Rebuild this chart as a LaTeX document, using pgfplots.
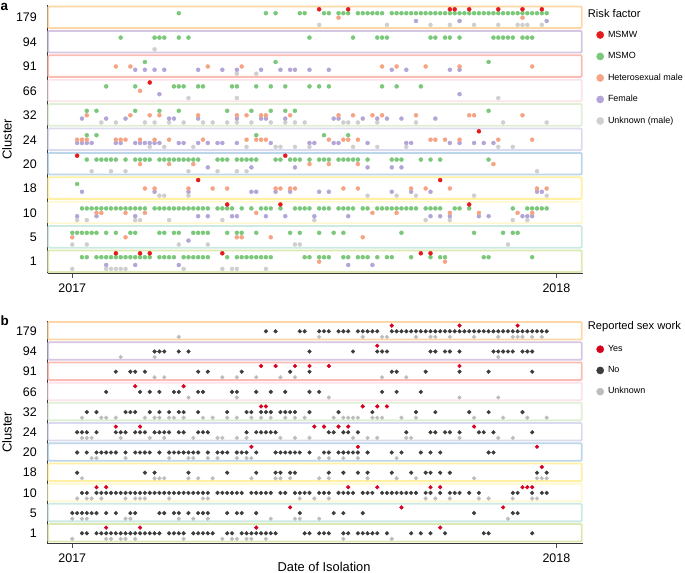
\documentclass[border=0pt]{standalone}
\usepackage{fontspec}
\setmainfont{Liberation Sans}
\usepackage{pgfplots}
\pgfplotsset{compat=1.18}

\definecolor{cMSMW}{HTML}{E41A1C}
\definecolor{cMSMO}{HTML}{7BC87B}
\definecolor{cHet}{HTML}{F6A383}
\definecolor{cFem}{HTML}{B3A5D7}
\definecolor{cUnk}{HTML}{CFCFCF}
\definecolor{cYes}{HTML}{D7001E}
\definecolor{cNo}{HTML}{3C3C3C}
\definecolor{cUnkB}{HTML}{BDBDBD}
% cluster box colours
\definecolor{b179}{HTML}{FDD7A6}
\definecolor{b94}{HTML}{D7C6E3}
\definecolor{b91}{HTML}{FBBDB3}
\definecolor{b66}{HTML}{FCE3EA}
\definecolor{b32}{HTML}{DFEFD5}
\definecolor{b24}{HTML}{DCDAEF}
\definecolor{b20}{HTML}{BDD7EA}
\definecolor{b18}{HTML}{FFF0A3}
\definecolor{b10}{HTML}{FFF7CF}
\definecolor{b5}{HTML}{CCE9E4}
\definecolor{b1}{HTML}{DCE9B1}

\tikzset{cbox/.style={line width=1.8bp, rounded corners=1bp}}

\pgfplotsset{
  clusterax/.style={
    scale only axis, width=535bp,
    xmin=-5.12, xmax=105.4,
    axis lines=left,
    axis line style={-, draw=black!78, line width=1.1bp},
    xtick={0,100}, xticklabels={2017,2018},
    ytick={0,1,...,10}, yticklabels={1,5,10,18,20,24,32,66,91,94,179},
    tick align=outside, major tick length=4.3bp,
    xtick style={draw=black!70, line width=0.9bp},
    ytick style={draw=none},
    tick label style={font=\fontsize{12.5}{14}\selectfont, inner sep=0pt},
    yticklabel style={anchor=east, xshift=-6.2bp},
    xticklabel style={anchor=north, yshift=-6bp},
    ylabel={Cluster},
    ylabel style={at={(axis description cs:-0.0757,0.5)}, anchor=center, font=\fontsize{13}{15}\selectfont},
    clip=false,
    legend cell align=left,
    legend style={at={(1,1)}, anchor=north west, draw=none, fill=none,
      inner sep=0pt, outer sep=0pt, font=\fontsize{9}{10}\selectfont,
      nodes={inner sep=0pt, text height=6.5bp, text depth=2bp},
      /tikz/every odd column/.style={column sep=4bp}},
  },
  pa/.style={only marks, mark=*, mark size=2bp, mark options={draw=none}, forget plot},
  pb/.style={only marks, mark=*, mark size=1.9bp, mark options={draw=none}, forget plot},
}

\begin{document}
\begin{tikzpicture}
\useasboundingbox (0,0) rectangle (685bp,573bp);

% ---------------- panel a ----------------
\begin{axis}[clusterax, at={(47.5bp,299.5bp)}, anchor=south west,
  height=268.5bp, ymin=-0.484, ymax=10.52,
  legend style={xshift=13.9bp, yshift=-25.7bp, row sep=13bp}]
\draw[cbox, b1]   (axis cs:-4.96,-0.425) rectangle (axis cs:105.25,0.46);
\draw[cbox, b5]   (axis cs:-4.96,0.575) rectangle (axis cs:105.25,1.46);
\draw[cbox, b10]  (axis cs:-4.96,1.575) rectangle (axis cs:105.25,2.46);
\draw[cbox, b18]  (axis cs:-4.96,2.575) rectangle (axis cs:105.25,3.46);
\draw[cbox, b20]  (axis cs:-4.96,3.575) rectangle (axis cs:105.25,4.46);
\draw[cbox, b24]  (axis cs:-4.96,4.575) rectangle (axis cs:105.25,5.46);
\draw[cbox, b32]  (axis cs:-4.96,5.575) rectangle (axis cs:105.25,6.46);
\draw[cbox, b66]  (axis cs:-4.96,6.575) rectangle (axis cs:105.25,7.46);
\draw[cbox, b91]  (axis cs:-4.96,7.575) rectangle (axis cs:105.25,8.46);
\draw[cbox, b94]  (axis cs:-4.96,8.575) rectangle (axis cs:105.25,9.46);
\draw[cbox, b179] (axis cs:-4.96,9.575) rectangle (axis cs:105.25,10.46);

% Unknown (male)
\addplot[pa, color=cUnk, y filter/.expression={y-0.295}] coordinates {
(51,10)(65,10)(74,10)(78,10)(83,10)(88,10)(92,10)(93,10)(94,10)(97,10)
(17,9)
(34,8)(38,8)
(24,7)(34,7)(88,7)
(6,6)(9,6)(15,6)(17,6)(20,6)(23,6)(27,6)(29,6)(32,6)(34,6)(37,6)(41,6)(44,6)(46,6)(48,6)(56,6)(57,6)(59,6)(63,6)(71,6)(89,6)(98,6)
(16,5)(19,5)(25,5)(36,5)(42,5)(43,5)(46,5)(49,5)(58,5)(63,5)(69,5)(88,5)(91,5)
(4,4)(8,4)(11,4)(24,4)(30,4)(34,4)(36,4)(96,4)
(18,3)(19,3)(24,3)(61,3)(67,3)(71,3)(83,3)(98,3)
(1,2)(3,2)(13,2)(14,2)(20,2)(31,2)(50,2)(73,2)(78,2)(91,2)(94,2)
(0,1)(3,1)(22,1)(28,1)(46,1)(47,1)(90,1)
(0,0)(7,0)(8,0)(9,0)(10,0)(11,0)(23,0)(31,0)(33,0)(34,0)(40,0)
};
% Female
\addplot[pa, color=cFem, y filter/.expression={y-0.135}] coordinates {
(71,10)(80,10)(98,10)
(13,8)(15,8)(17,8)(19,8)(26,8)(31,8)(34,8)(39,8)(43,8)(45,8)(46,8)(49,8)(53,8)(66,8)(69,8)(78,8)(80,8)
(18,7)(80,7)
(2,6)(7,6)(11,6)(20,6)(21,6)(26,6)(34,6)(39,6)(40,6)(44,6)(54,6)(55,6)(60,6)(63,6)(65,6)(68,6)(75,6)
(1,5)(2,5)(3,5)(4,5)(9,5)(10,5)(13,5)(14,5)(15,5)(16,5)(17,5)(18,5)(22,5)(23,5)(26,5)(28,5)(30,5)(31,5)(34,5)(41,5)(49,5)(50,5)(54,5)(55,5)(61,5)(69,5)(70,5)(78,5)(80,5)(83,5)(85,5)(87,5)
(28,4)(37,4)(46,4)(61,4)(66,4)(68,4)
(2,3)(17,3)(24,3)(37,3)(38,3)(42,3)(45,3)(51,3)(53,3)(66,3)(70,3)(74,3)(96,3)(97,3)
(1,2)(5,2)(13,2)(26,2)(28,2)(33,2)(34,2)(40,2)(44,2)(50,2)(57,2)(74,2)(76,2)(78,2)(84,2)(86,2)(93,2)(94,2)(95,2)
(24,1)
(7,0)(13,0)(22,0)(57,0)(62,0)
};
% Heterosexual male
\addplot[pa, color=cHet] coordinates {
(55,10)(93,10)
(9,8)(12,8)(28,8)(35,8)(64,8)(67,8)(73,8)(80,8)(95,8)
(14,7)
(3,6)(12,6)(16,6)(18,6)(26,6)(34,6)(36,6)(39,6)(40,6)(45,6)(55,6)(58,6)(62,6)(64,6)(71,6)(82,6)(83,6)(93,6)
(1,5)(2,5)(3,5)(9,5)(10,5)(11,5)(14,5)(17,5)(20,5)(27,5)(36,5)(38,5)(39,5)(40,5)(53,5)(56,5)(57,5)(59,5)(74,5)(75,5)(77,5)(80,5)(88,5)(95,5)
(14,4)(20,4)(25,4)(49,4)(53,4)(59,4)(87,4)
(15,3)(17,3)(24,3)(29,3)(32,3)(42,3)(43,3)(45,3)(46,3)(56,3)(59,3)(70,3)(73,3)(78,3)(96,3)(98,3)
(5,2)(6,2)(11,2)(15,2)(38,2)(62,2)(67,2)(78,2)(84,2)(92,2)(95,2)
(0,1)(11,1)(34,1)(35,1)(41,1)(60,1)
(51,0)(77,0)
};
% MSMO
\addplot[pa, color=cMSMO, y filter/.expression={y+0.184}] coordinates {
(22,10)(40,10)(42,10)(47,10)(48,10)(52,10)(53,10)(55,10)(56,10)(57,10)(59,10)(60,10)(61,10)(62,10)(63,10)(64,10)
(66,10)(67,10)(68,10)(69,10)(70,10)(71,10)(72,10)(73,10)(74,10)(75,10)(76,10)(77,10)(78,10)(79,10)(80,10)(81,10)(82,10)
(83,10)(84,10)(85,10)(86,10)(87,10)(88,10)(89,10)(90,10)(91,10)(92,10)(93,10)(94,10)(95,10)(96,10)(97,10)(98,10)
(10,9)(17,9)(18,9)(19,9)(22,9)(24,9)(49,9)(58,9)(63,9)(64,9)(65,9)(74,9)(75,9)(77,9)(78,9)(80,9)(87,9)(88,9)(89,9)(90,9)(91,9)(93,9)(94,9)(95,9)
(15,8)(42,8)(86,8)
(7,7)(13,7)(21,7)(22,7)(23,7)(26,7)(27,7)(33,7)(34,7)(38,7)(41,7)(44,7)(49,7)(51,7)(53,7)(64,7)(67,7)(72,7)
(3,6)(5,6)(13,6)(18,6)(22,6)(32,6)(37,6)(41,6)(44,6)(46,6)(86,6)
(3,5)(5,5)(38,5)(52,5)(57,5)
(3,4)(5,4)(6,4)(7,4)(8,4)(9,4)(11,4)(13,4)(14,4)(15,4)(16,4)(18,4)(19,4)(20,4)(21,4)(22,4)(23,4)(24,4)(25,4)(26,4)
(30,4)(31,4)(32,4)(34,4)(35,4)(36,4)(37,4)(38,4)(42,4)(43,4)(45,4)(46,4)(47,4)(49,4)(51,4)(52,4)(53,4)(55,4)(56,4)(57,4)
(58,4)(59,4)(61,4)(66,4)(67,4)(68,4)(72,4)(74,4)(76,4)(86,4)
(1,3)
(2,2)(3,2)(4,2)(5,2)(6,2)(7,2)(8,2)(9,2)(10,2)(11,2)(12,2)(13,2)(14,2)(15,2)(17,2)(18,2)(19,2)(20,2)(21,2)(22,2)(23,2)
(24,2)(25,2)(26,2)(27,2)(28,2)(30,2)(31,2)(32,2)(33,2)(35,2)(37,2)(39,2)(40,2)(41,2)(43,2)(46,2)(47,2)(48,2)(49,2)(51,2)
(52,2)(53,2)(55,2)(56,2)(57,2)(58,2)(60,2)(61,2)(63,2)(64,2)(65,2)(66,2)(67,2)(68,2)(69,2)(70,2)(71,2)(73,2)(74,2)(75,2)
(76,2)(79,2)(80,2)(82,2)(91,2)(94,2)(95,2)(96,2)(97,2)(98,2)
(0,1)(1,1)(2,1)(3,1)(4,1)(5,1)(7,1)(9,1)(12,1)(13,1)(18,1)(19,1)(21,1)(22,1)(25,1)(26,1)(27,1)(28,1)(32,1)(34,1)(35,1)
(38,1)(45,1)(47,1)(51,1)(54,1)(56,1)(68,1)(83,1)(89,1)(91,1)(92,1)
(2,0)(3,0)(5,0)(6,0)(7,0)(8,0)(9,0)(10,0)(11,0)(12,0)(13,0)(14,0)(15,0)(16,0)(18,0)(19,0)(20,0)(21,0)(23,0)(24,0)(25,0)
(26,0)(27,0)(28,0)(32,0)(34,0)(35,0)(36,0)(37,0)(38,0)(39,0)(40,0)(41,0)(48,0)(49,0)(51,0)(52,0)(53,0)(56,0)(57,0)(59,0)
(60,0)(61,0)(63,0)(65,0)(66,0)(70,0)(74,0)(76,0)(77,0)(85,0)(86,0)(95,0)
};
% MSMW
\addplot[pa, color=cMSMW, y filter/.expression={y+0.344}] coordinates {
(51,10)(57,10)(78,10)(79,10)(82,10)(88,10)(93,10)(97,10)
(16,7)(84,5)(1,4)(44,4)(26,3)(76,3)(32,2)(43,2)(82,2)
(9,0)(14,0)(16,0)(31,0)(72,0)(74,0)
};

\addlegendimage{legend image code/.code={\fill[cMSMW] (3.6bp,0bp) circle[radius=3.6bp];}}
\addlegendentry{MSMW}
\addlegendimage{legend image code/.code={\fill[cMSMO] (3.6bp,0bp) circle[radius=3.6bp];}}
\addlegendentry{MSMO}
\addlegendimage{legend image code/.code={\fill[cHet] (3.6bp,0bp) circle[radius=3.6bp];}}
\addlegendentry{Heterosexual male}
\addlegendimage{legend image code/.code={\fill[cFem] (3.6bp,0bp) circle[radius=3.6bp];}}
\addlegendentry{Female}
\addlegendimage{legend image code/.code={\fill[cUnk] (3.6bp,0bp) circle[radius=3.6bp];}}
\addlegendentry{Unknown (male)}
\end{axis}

% ---------------- panel b ----------------
\begin{axis}[clusterax, at={(47.5bp,29.5bp)}, anchor=south west,
  height=222.5bp, ymin=-0.505, ymax=10.51,
  xlabel={Date of Isolation},
  xlabel style={at={(axis description cs:0.517,-0.1034)}, anchor=center, font=\fontsize{12.9}{15}\selectfont},
  legend style={xshift=13.9bp, yshift=-24bp, row sep=12.7bp}]
\draw[cbox, b1]   (axis cs:-4.96,-0.41) rectangle (axis cs:105.25,0.46);
\draw[cbox, b5]   (axis cs:-4.96,0.59) rectangle (axis cs:105.25,1.46);
\draw[cbox, b10]  (axis cs:-4.96,1.59) rectangle (axis cs:105.25,2.46);
\draw[cbox, b18]  (axis cs:-4.96,2.59) rectangle (axis cs:105.25,3.46);
\draw[cbox, b20]  (axis cs:-4.96,3.59) rectangle (axis cs:105.25,4.46);
\draw[cbox, b24]  (axis cs:-4.96,4.59) rectangle (axis cs:105.25,5.46);
\draw[cbox, b32]  (axis cs:-4.96,5.59) rectangle (axis cs:105.25,6.46);
\draw[cbox, b66]  (axis cs:-4.96,6.59) rectangle (axis cs:105.25,7.46);
\draw[cbox, b91]  (axis cs:-4.96,7.59) rectangle (axis cs:105.25,8.46);
\draw[cbox, b94]  (axis cs:-4.96,8.59) rectangle (axis cs:105.25,9.46);
\draw[cbox, b179] (axis cs:-4.96,9.59) rectangle (axis cs:105.25,10.46);

% Unknown
\addplot[pb, color=cUnkB, y filter/.expression={y-0.277}] coordinates {
(22,10)(51,10)(60,10)(64,10)(65,10)(71,10)(74,10)(75,10)(78,10)(83,10)(88,10)(91,10)(92,10)(93,10)(95,10)(97,10)
(10,9)(17,9)(88,9)
(17,8)(19,8)(31,8)(34,8)(38,8)(43,8)(46,8)(64,8)(69,8)
(24,7)(34,7)(53,7)(80,7)(88,7)
(2,6)(6,6)(7,6)(9,6)(15,6)(17,6)(18,6)(20,6)(21,6)(23,6)(27,6)(29,6)(32,6)(34,6)(37,6)(39,6)(41,6)(44,6)(46,6)(48,6)
(54,6)(56,6)(57,6)(58,6)(59,6)(62,6)(63,6)(64,6)(68,6)(71,6)(83,6)(89,6)(94,6)(98,6)
(2,5)(3,5)(4,5)(10,5)(16,5)(19,5)(25,5)(30,5)(31,5)(34,5)(36,5)(43,5)(46,5)(49,5)(58,5)(61,5)(63,5)(69,5)(70,5)(80,5)(88,5)(91,5)
(4,4)(5,4)(11,4)(20,4)(24,4)(25,4)(28,4)(30,4)(34,4)(36,4)(37,4)(51,4)(53,4)(56,4)(59,4)(67,4)
(2,3)(17,3)(18,3)(19,3)(24,3)(26,3)(29,3)(37,3)(42,3)(43,3)(45,3)(51,3)(53,3)(61,3)(67,3)(71,3)(83,3)(96,3)(97,3)(98,3)
(1,2)(3,2)(4,2)(6,2)(11,2)(13,2)(14,2)(15,2)(20,2)(27,2)(28,2)(47,2)(50,2)(53,2)(73,2)(75,2)(78,2)(84,2)(86,2)(91,2)(95,2)(96,2)
(0,1)(2,1)(3,1)(11,1)(12,1)(22,1)(25,1)(28,1)(41,1)(46,1)(47,1)(51,1)(90,1)
(0,0)(7,0)(8,0)(10,0)(11,0)(13,0)(23,0)(31,0)(33,0)(34,0)(36,0)(37,0)(40,0)(56,0)(66,0)
};
% No
\addplot[pb, color=cNo] coordinates {
(40,10)(42,10)(47,10)(48,10)(51,10)(52,10)(53,10)(55,10)(56,10)(57,10)(59,10)(60,10)(61,10)(62,10)(63,10)
(66,10)(67,10)(68,10)(69,10)(70,10)(71,10)(72,10)(73,10)(74,10)(75,10)(76,10)(77,10)(78,10)(79,10)(80,10)(81,10)(82,10)
(83,10)(84,10)(85,10)(86,10)(87,10)(88,10)(89,10)(90,10)(91,10)(92,10)(93,10)(94,10)(95,10)(96,10)(97,10)(98,10)
(17,9)(18,9)(19,9)(22,9)(24,9)(49,9)(58,9)(63,9)(64,9)(65,9)(74,9)(75,9)(77,9)(78,9)(80,9)(87,9)(88,9)(89,9)(90,9)(91,9)(93,9)(94,9)(95,9)
(9,8)(12,8)(13,8)(15,8)(26,8)(28,8)(35,8)(45,8)(49,8)(66,8)(67,8)(73,8)(80,8)(86,8)(95,8)
(7,7)(14,7)(16,7)(18,7)(21,7)(22,7)(26,7)(27,7)(33,7)(34,7)(38,7)(41,7)(44,7)(49,7)(51,7)(64,7)(67,7)(72,7)
(3,6)(5,6)(11,6)(12,6)(13,6)(16,6)(18,6)(20,6)(22,6)(23,6)(26,6)(32,6)(36,6)(37,6)(39,6)(40,6)(41,6)(43,6)(44,6)(45,6)
(46,6)(49,6)(55,6)(62,6)(71,6)(75,6)(82,6)(86,6)(93,6)
(1,5)(2,5)(3,5)(5,5)(9,5)(10,5)(11,5)(13,5)(14,5)(15,5)(17,5)(18,5)(19,5)(20,5)(22,5)(23,5)(26,5)(27,5)(28,5)(36,5)
(38,5)(39,5)(40,5)(41,5)(42,5)(53,5)(54,5)(56,5)(57,5)(59,5)(69,5)(74,5)(75,5)(77,5)(78,5)(80,5)(84,5)(85,5)(87,5)(95,5)
(1,4)(3,4)(5,4)(6,4)(7,4)(8,4)(9,4)(11,4)(13,4)(14,4)(15,4)(16,4)(18,4)(20,4)(21,4)(22,4)(23,4)(24,4)(25,4)(26,4)
(28,4)(30,4)(31,4)(32,4)(34,4)(35,4)(36,4)(38,4)(42,4)(43,4)(44,4)(45,4)(46,4)(47,4)(49,4)(52,4)(53,4)(55,4)(56,4)(57,4)
(58,4)(59,4)(61,4)(66,4)(68,4)(72,4)(74,4)(76,4)(86,4)(87,4)
(1,3)(15,3)(17,3)(24,3)(32,3)(38,3)(42,3)(43,3)(45,3)(46,3)(53,3)(56,3)(59,3)(61,3)(66,3)(70,3)(73,3)(74,3)(76,3)(78,3)(96,3)(98,3)
(2,2)(3,2)(5,2)(6,2)(7,2)(8,2)(9,2)(10,2)(11,2)(12,2)(13,2)(14,2)(15,2)(16,2)(17,2)(18,2)(19,2)(20,2)(21,2)(22,2)(23,2)
(24,2)(25,2)(26,2)(27,2)(28,2)(30,2)(31,2)(32,2)(33,2)(34,2)(35,2)(37,2)(38,2)(39,2)(40,2)(41,2)(43,2)(44,2)(46,2)(47,2)
(48,2)(49,2)(51,2)(52,2)(53,2)(55,2)(56,2)(57,2)(58,2)(60,2)(61,2)(62,2)(64,2)(65,2)(66,2)(67,2)(68,2)(69,2)(70,2)(71,2)
(73,2)(74,2)(76,2)(78,2)(79,2)(80,2)(82,2)(84,2)(91,2)(92,2)(95,2)(97,2)(98,2)
(0,1)(1,1)(2,1)(3,1)(4,1)(5,1)(7,1)(9,1)(12,1)(13,1)(18,1)(19,1)(21,1)(22,1)(24,1)(26,1)(27,1)(28,1)(32,1)(34,1)(35,1)
(38,1)(47,1)(54,1)(56,1)(60,1)(83,1)(91,1)(92,1)
(2,0)(3,0)(5,0)(6,0)(7,0)(8,0)(9,0)(10,0)(11,0)(12,0)(13,0)(14,0)(15,0)(16,0)(17,0)(18,0)(20,0)(21,0)(22,0)(23,0)(25,0)
(26,0)(27,0)(28,0)(29,0)(32,0)(33,0)(35,0)(36,0)(37,0)(38,0)(39,0)(40,0)(41,0)(42,0)(48,0)(49,0)(51,0)(52,0)(53,0)(56,0)
(57,0)(59,0)(60,0)(61,0)(62,0)(63,0)(65,0)(70,0)(72,0)(74,0)(77,0)(85,0)(86,0)(95,0)
};
% Yes
\addplot[pb, color=cYes, y filter/.expression={y+0.282}] coordinates {
(66,10)(80,10)(92,10)
(63,9)
(39,8)(42,8)(46,8)(49,8)(53,8)(80,8)
(13,7)(23,7)
(39,6)(40,6)(60,6)(63,6)(65,6)
(9,5)(14,5)(50,5)(52,5)(55,5)(57,5)(83,5)
(37,4)(59,4)(96,4)
(97,3)
(5,2)(7,2)(57,2)(63,2)(74,2)(76,2)(93,2)(94,2)(95,2)
(45,1)(68,1)(89,1)
(7,0)(14,0)(38,0)(76,0)
};

\addlegendimage{legend image code/.code={\fill[cYes] (3.6bp,0bp) circle[radius=3.6bp];}}
\addlegendentry{Yes}
\addlegendimage{legend image code/.code={\fill[cNo] (3.6bp,0bp) circle[radius=3.6bp];}}
\addlegendentry{No}
\addlegendimage{legend image code/.code={\fill[cUnkB] (3.6bp,0bp) circle[radius=3.6bp];}}
\addlegendentry{Unknown}
\end{axis}

% legend titles and panel letters
\node[anchor=base west, inner sep=0pt, font=\fontsize{11.2}{13}\selectfont] at (587.7bp,555.7bp) {Risk factor};
\node[anchor=base west, inner sep=0pt, font=\fontsize{11.2}{13}\selectfont] at (587.7bp,243bp) {Reported sex work};
\node[anchor=base west, inner sep=0pt, font=\bfseries\fontsize{13.5}{16}\selectfont] at (0.5bp,562.5bp) {a};
\node[anchor=base west, inner sep=0pt, font=\bfseries\fontsize{13.5}{16}\selectfont] at (0.5bp,247bp) {b};
\end{tikzpicture}
\end{document}
